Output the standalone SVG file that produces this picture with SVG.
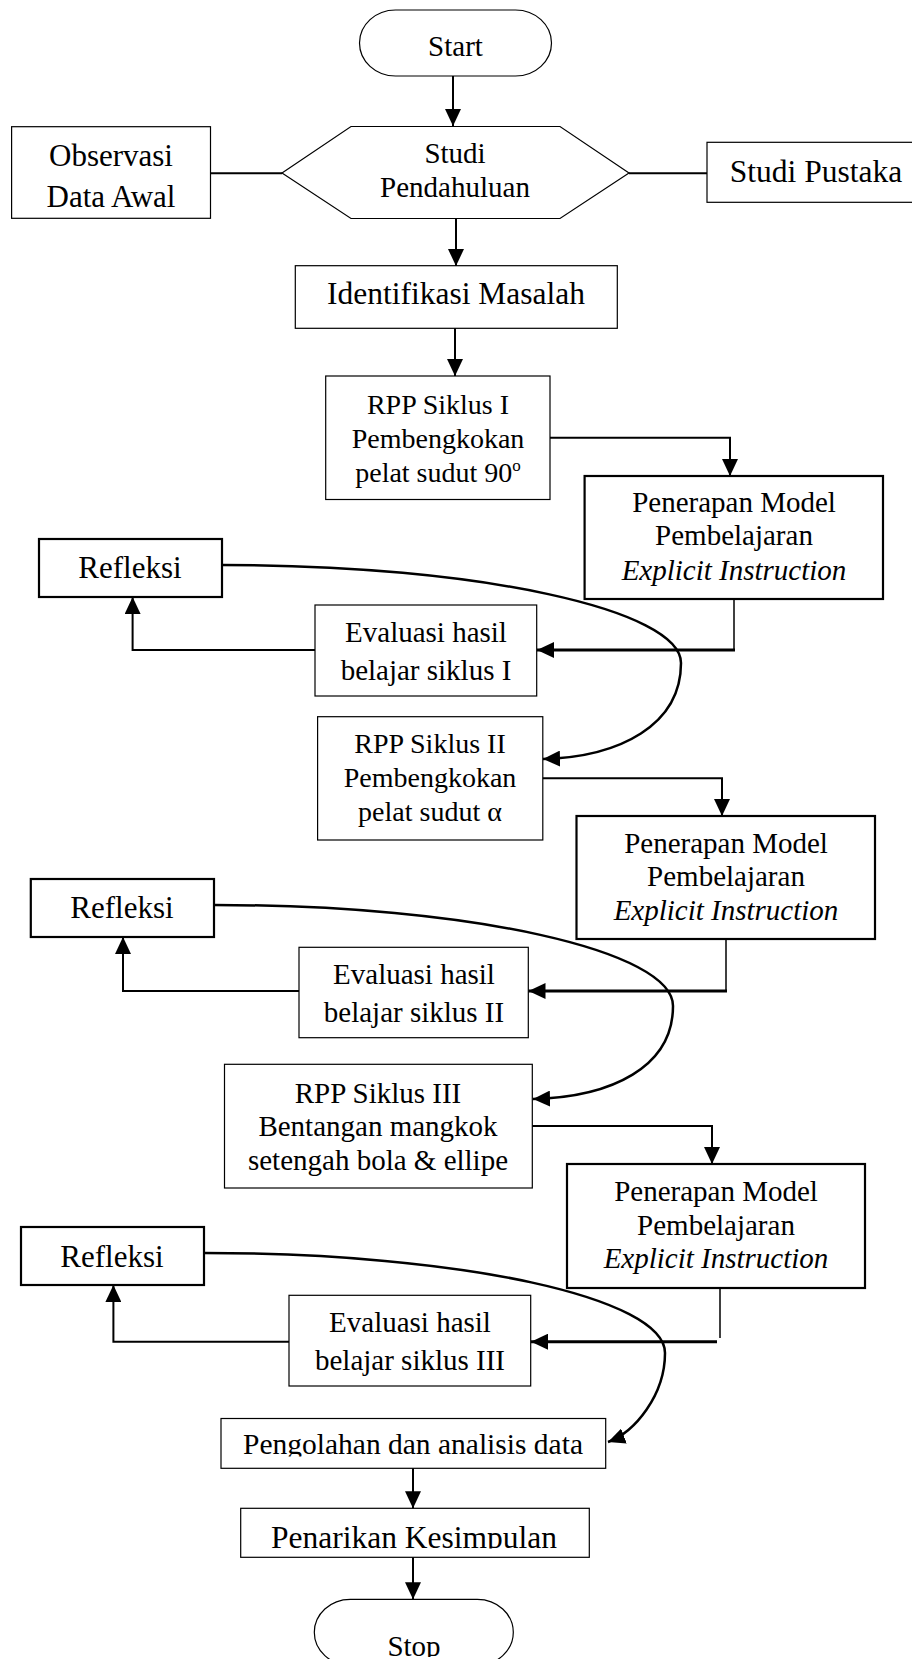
<svg xmlns="http://www.w3.org/2000/svg" width="912" height="1659" viewBox="0 0 912 1659">
<defs>
<marker id="ah" viewBox="0 0 17 16" markerWidth="17" markerHeight="16" refX="17" refY="8" orient="auto" markerUnits="userSpaceOnUse"><path d="M0,0L17,8L0,16z" fill="#000"/></marker>
<clipPath id="clipPeng"><rect x="200" y="1400" width="420" height="56.5"/></clipPath>
<clipPath id="clipPen"><rect x="200" y="1500" width="420" height="48.5"/></clipPath>
<clipPath id="clipStop"><rect x="300" y="1590" width="230" height="67"/></clipPath>
<style>
text{font-family:"Liberation Serif","Times New Roman",serif;fill:#000;text-anchor:middle}
.b1{fill:#fff;stroke:#000;stroke-width:1.2}
.b2{fill:#fff;stroke:#000;stroke-width:2.2}
.c{fill:none;stroke:#000;stroke-width:2}
.cn{fill:none;stroke:#000;stroke-width:1.5}
.ct{fill:none;stroke:#000;stroke-width:3}
.cv{fill:none;stroke:#000;stroke-width:2.5}
.it{font-style:italic}
</style>
</defs>
<rect width="912" height="1659" fill="#fff"/>

<g id="start">
<rect class="b1" x="359.5" y="10" width="192" height="66" rx="36" ry="33"/>
<text x="455.5" y="56" font-size="29">Start</text>
</g>
<g id="studi-pendahuluan">
<polygon class="b1" points="282,173 351,126.5 560,126.5 629,173 560,218.5 351,218.5"/>
<text x="455" y="163" font-size="29">Studi</text>
<text x="455" y="197" font-size="29">Pendahuluan</text>
</g>
<g id="observasi">
<rect class="b1" x="11.6" y="126.7" width="198.9" height="91.6"/>
<text x="111" y="166" font-size="31">Observasi</text>
<text x="111" y="207" font-size="31">Data Awal</text>
</g>
<g id="studi-pustaka">
<rect class="b1" x="707" y="142.3" width="230" height="60"/>
<text x="816" y="182" font-size="31.5">Studi Pustaka</text>
</g>
<g id="identifikasi">
<rect class="b1" x="295.3" y="265.7" width="322" height="62.6"/>
<text x="456" y="304" font-size="31.5">Identifikasi Masalah</text>
</g>
<g id="rpp1">
<rect class="b1" x="325.7" y="376" width="224.3" height="123.5"/>
<text x="438" y="414" font-size="28">RPP Siklus I</text>
<text x="438" y="448" font-size="28">Pembengkokan</text>
<text x="438" y="482" font-size="28">pelat sudut 90<tspan dy="-11" font-size="17">o</tspan></text>
</g>
<g id="penerapan1">
<rect class="b2" x="584.6" y="476" width="298.4" height="123"/>
<text x="734" y="512" font-size="29">Penerapan Model</text>
<text x="734" y="545" font-size="29">Pembelajaran</text>
<text x="734" y="580" font-size="29" class="it">Explicit Instruction</text>
</g>
<g id="refleksi1">
<rect class="b2" x="39" y="539" width="183" height="58"/>
<text x="130" y="578" font-size="31">Refleksi</text>
</g>
<g id="evaluasi1">
<rect class="b1" x="315" y="605" width="221.7" height="91"/>
<text x="426" y="642" font-size="29">Evaluasi hasil</text>
<text x="426" y="680" font-size="29">belajar siklus I</text>
</g>
<g id="rpp2">
<rect class="b1" x="317.6" y="716.7" width="225.2" height="123.3"/>
<text x="430" y="753" font-size="28">RPP Siklus II</text>
<text x="430" y="787" font-size="28">Pembengkokan</text>
<text x="430" y="821" font-size="28">pelat sudut α</text>
</g>
<g id="penerapan2">
<rect class="b2" x="576.5" y="816" width="298.5" height="123"/>
<text x="726" y="853" font-size="29">Penerapan Model</text>
<text x="726" y="886" font-size="29">Pembelajaran</text>
<text x="726" y="920" font-size="29" class="it">Explicit Instruction</text>
</g>
<g id="refleksi2">
<rect class="b2" x="30.8" y="879" width="183.2" height="58"/>
<text x="122" y="918" font-size="31">Refleksi</text>
</g>
<g id="evaluasi2">
<rect class="b1" x="299" y="947.3" width="229.3" height="90.4"/>
<text x="414" y="984" font-size="29">Evaluasi hasil</text>
<text x="414" y="1022" font-size="29">belajar siklus II</text>
</g>
<g id="rpp3">
<rect class="b1" x="224.5" y="1064.3" width="307.8" height="123.7"/>
<text x="378" y="1103" font-size="29">RPP Siklus III</text>
<text x="378" y="1136" font-size="29">Bentangan mangkok</text>
<text x="378" y="1170" font-size="29">setengah bola &amp; ellipe</text>
</g>
<g id="penerapan3">
<rect class="b2" x="567" y="1164" width="298" height="124"/>
<text x="716" y="1201" font-size="29">Penerapan Model</text>
<text x="716" y="1235" font-size="29">Pembelajaran</text>
<text x="716" y="1268" font-size="29" class="it">Explicit Instruction</text>
</g>
<g id="refleksi3">
<rect class="b2" x="21" y="1227" width="183" height="58"/>
<text x="112" y="1267" font-size="31">Refleksi</text>
</g>
<g id="evaluasi3">
<rect class="b1" x="289" y="1295.3" width="241.7" height="90.7"/>
<text x="410" y="1332" font-size="29">Evaluasi hasil</text>
<text x="410" y="1370" font-size="29">belajar siklus III</text>
</g>
<g id="pengolahan">
<rect class="b1" x="221" y="1418.5" width="384.7" height="49.8"/>
<text x="413" y="1454" font-size="29.5" clip-path="url(#clipPeng)">Pengolahan dan analisis data</text>
</g>
<g id="penarikan">
<rect class="b1" x="240.7" y="1508.3" width="348.6" height="49"/>
<text x="414" y="1548" font-size="31.5" clip-path="url(#clipPen)">Penarikan Kesimpulan</text>
</g>
<g id="stop">
<rect class="b1" x="314.3" y="1599.3" width="199" height="66" rx="36" ry="33"/>
<text x="414" y="1656" font-size="29" clip-path="url(#clipStop)">Stop</text>
</g>

<g id="connectors">
<path class="c" d="M453,76V126" marker-end="url(#ah)"/>
<path class="c" d="M456,218.5V266" marker-end="url(#ah)"/>
<path class="c" d="M210.5,173.3H282"/>
<path class="c" d="M629,173.3H707"/>
<path class="c" d="M455,328.3V376" marker-end="url(#ah)"/>
<path class="c" d="M550,437.7H730V476" marker-end="url(#ah)"/>
<path class="cn" d="M734,599V651"/>
<path class="ct" d="M735,650H537" marker-end="url(#ah)"/>
<path class="c" d="M315,650H132.6V597" marker-end="url(#ah)"/>
<path class="cv" d="M222,565C480,565 681,610 681,663C681,725 620,757 543,759" marker-end="url(#ah)"/>
<path class="c" d="M542.8,778.3H722V816" marker-end="url(#ah)"/>
<path class="cn" d="M726,939V992"/>
<path class="ct" d="M727,991H528.5" marker-end="url(#ah)"/>
<path class="c" d="M299,991H123V937" marker-end="url(#ah)"/>
<path class="cv" d="M214,905C472,905 673,951 673,1006C673,1067 612,1097 533,1099" marker-end="url(#ah)"/>
<path class="c" d="M532.3,1126H712V1164" marker-end="url(#ah)"/>
<path class="cn" d="M720,1288V1338"/>
<path class="ct" d="M717,1341.7H531" marker-end="url(#ah)"/>
<path class="c" d="M289,1341.7H113.4V1285" marker-end="url(#ah)"/>
<path class="cv" d="M204,1253C462,1253 665,1298 665,1353C665,1395 635,1432 608,1442" marker-end="url(#ah)"/>
<path class="c" d="M413,1468.3V1508.3" marker-end="url(#ah)"/>
<path class="c" d="M413,1557.3V1599.3" marker-end="url(#ah)"/>
</g>
</svg>
